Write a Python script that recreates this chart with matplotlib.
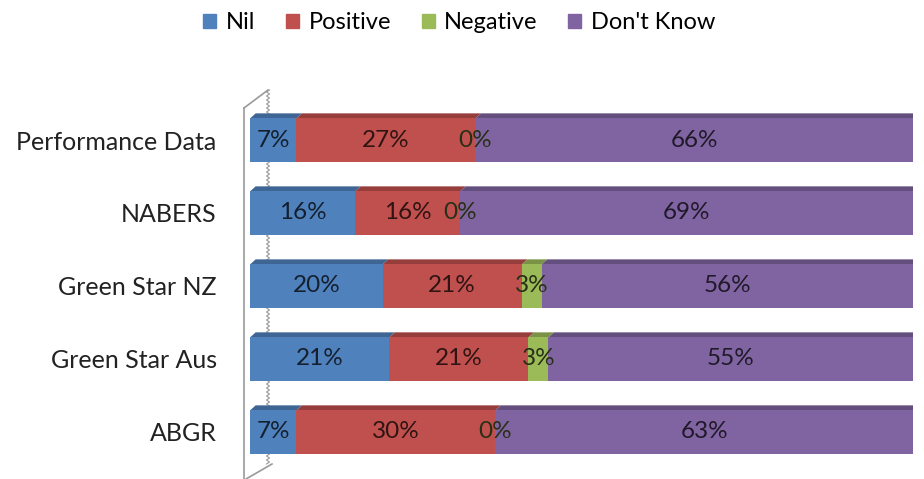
import matplotlib.pyplot as plt
import numpy as np
from matplotlib.colors import to_rgb
from matplotlib.lines import Line2D
from matplotlib.patches import Patch, Polygon

plt.rcParams['font.family'] = ['Lato', 'DejaVu Sans']

categories = ['Performance Data', 'NABERS', 'Green Star NZ', 'Green Star Aus', 'ABGR']
series = ['Nil', 'Positive', 'Negative', "Don't Know"]
nil = [7, 16, 20, 21, 7]
positive = [27, 16, 21, 21, 30]
negative = [0, 0, 3, 3, 0]
dont_know = [66, 69, 56, 55, 63]

colors = ['#4F81BD', '#C0504D', '#9BBB59', '#8064A2']

W, H = 924, 479


def px(x, y):
    # pixel (from top-left) -> figure fraction
    return x / W, 1 - y / H


def shade(c, f):
    return tuple(np.array(to_rgb(c)) * f)


fig = plt.figure(figsize=(W / 100, H / 100), dpi=100)
ax = fig.add_axes([250 / W, 0, 663 / W, (H - 90) / H])
ax.set_xlim(0, 100)
ax.set_ylim(4.644, -0.685)
ax.set_zorder(2)
ax.patch.set_alpha(0)

vals = np.array([nil, positive, negative, dont_know], dtype=float)
pct = vals / vals.sum(axis=0) * 100
y = np.arange(len(categories))
bh = 0.59
dx, dy = 0.85, 0.07

left = np.zeros(len(categories))
for k, name in enumerate(series):
    ax.barh(y, pct[k], left=left, height=bh, color=colors[k], zorder=3)
    for i in range(len(categories)):
        l, r = left[i], left[i] + pct[k][i]
        top = y[i] - bh / 2
        if r > l:
            ax.add_patch(Polygon([(l, top), (r, top), (r + dx, top - dy), (l + dx, top - dy)],
                                 closed=True, color=shade(colors[k], 0.78), lw=0, zorder=2))
        ax.text((l + r) / 2, y[i], f'{vals[k][i]:.0f}%', ha='center', va='center',
                fontsize=17.5, color=shade(colors[k], 0.25), zorder=5)
    left += pct[k]

# right side faces
for i in range(len(categories)):
    top, bot = y[i] - bh / 2, y[i] + bh / 2
    ax.add_patch(Polygon([(100, top), (100 + dx, top - dy), (100 + dx, bot - dy), (100, bot)],
                         closed=True, color=shade(colors[3], 0.68), lw=0, zorder=2))

ax.set_yticks(y)
ax.set_yticklabels(categories, fontsize=18, color='#222222')
ax.tick_params(axis='y', length=0, pad=24)
ax.set_xticks([])
for s in ax.spines.values():
    s.set_visible(False)

# 3D wall edges
wall = '#9a9a9a'
fig.add_artist(Line2D(*zip(px(244, 108), px(244, 479)), color=wall, lw=1.2))
fig.add_artist(Line2D(*zip(px(244, 108), px(268, 90)), color=wall, lw=1.2))
fig.add_artist(Line2D(*zip(px(246, 479), px(272, 464)), color=wall, lw=1.2))
zy = np.arange(90, 465, 2.0)
zx = 268 + 1.5 * (-1) ** np.arange(len(zy))
fig.add_artist(Line2D(zx / W, 1 - zy / H, color=wall, lw=0.8, zorder=1))

handles = [Patch(color=c) for c in colors]
fig.legend(handles, series, loc='center', bbox_to_anchor=(0.497, 0.952), ncol=4,
           frameon=False, fontsize=17, handlelength=0.55, handleheight=0.55,
           handletextpad=0.4, columnspacing=1.3)

fig.savefig('out.png', dpi=100)
